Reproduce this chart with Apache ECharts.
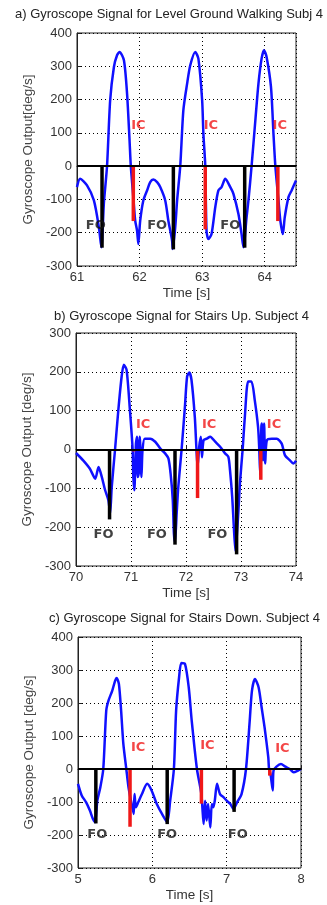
<!DOCTYPE html>
<html>
<head>
<meta charset="utf-8">
<script src="https://cdn.jsdelivr.net/npm/echarts@6/dist/echarts.min.js"></script>
<style>
  html, body { margin: 0; padding: 0; background: #fff; }
  #chart { width: 327px; height: 905px; }
</style>
</head>
<body>
<div id="chart"></div>
<script>
// a) level ground walking
var aTime = [61.00,61.05,61.16,61.27,61.35,61.39,61.43,61.48,61.53,61.59,61.64,61.68,61.75,61.80,61.84,61.86,61.90,61.93,61.96,61.98,62.01,62.06,62.12,62.17,62.22,62.28,62.33,62.41,62.46,62.52,62.53,62.57,62.60,62.65,62.70,62.76,62.81,62.89,62.94,63.00,63.02,63.05,63.07,63.10,63.15,63.21,63.26,63.31,63.37,63.45,63.50,63.58,63.63,63.66,63.71,63.74,63.79,63.85,63.90,63.95,63.99,64.03,64.10,64.14,64.17,64.22,64.25,64.29,64.32,64.38,64.43,64.50];
var aVal = [-63,-38,-58,-103,-184,-244,-110,0,198,298,333,343,318,218,77,0,-93,-164,-194,-234,-164,-103,-73,-48,-40,-48,-63,-103,-164,-224,-249,-184,-103,0,168,248,303,343,323,198,97,0,-194,-219,-204,-123,-73,-63,-38,-63,-83,-144,-204,-244,-154,-103,0,137,248,323,348,328,238,97,0,-103,-164,-204,-154,-93,-73,-43];
var aFoTime = [61.40, 62.54, 63.68];
var aFoVal = [-245, -250, -245];
var aIcTime = [61.90, 63.05, 64.21];
var aIcVal = [-165, -190, -165];
var aFoLabel = [[61.30, -180], [62.28, -180], [63.45, -180]];
var aIcLabel = [[61.98, 122], [63.14, 122], [64.24, 122]];

// b) stairs up
var bTime = [70.00,70.13,70.25,70.35,70.41,70.47,70.53,70.59,70.62,70.65,70.71,70.77,70.83,70.87,70.92,70.98,71.03,71.04,71.06,71.09,71.11,71.12,71.14,71.15,71.16,71.19,71.21,71.25,71.35,71.44,71.53,71.62,71.68,71.72,71.76,71.78,71.80,71.83,71.86,71.92,71.98,72.02,72.06,72.10,72.16,72.19,72.21,72.24,72.27,72.29,72.32,72.38,72.44,72.53,72.62,72.71,72.77,72.80,72.84,72.87,72.90,72.95,72.98,73.03,73.07,73.13,73.19,73.25,73.31,73.33,73.35,73.37,73.38,73.40,73.42,73.44,73.47,73.56,73.65,73.74,73.80,73.89,73.95,74.00];
var bVal = [-9,-28,-49,-75,-45,-71,-105,-131,-165,-96,0,102,188,218,205,102,0,-62,-105,15,33,-71,-62,-45,33,-71,0,28,28,20,3,-10,-23,-62,-131,-217,-238,-165,-96,0,110,188,198,179,84,0,-45,7,33,-20,24,28,33,20,7,-10,-19,-53,-122,-200,-262,-165,-88,0,84,175,175,127,58,7,-66,58,67,-28,67,-36,24,28,28,15,-15,-28,-36,-29];
var bFoTime = [70.61, 71.80, 72.92];
var bFoVal = [-180, -245, -270];
var bIcTime = [71.05, 72.21, 73.36];
var bIcVal = [-5, -125, -78];
var bFoLabel = [[70.50, -219], [71.47, -219], [72.57, -219]];
var bIcLabel = [[71.22, 65], [72.42, 65], [73.60, 65]];

// c) stairs down
var cTime = [5.00,5.05,5.11,5.16,5.20,5.23,5.26,5.30,5.34,5.38,5.41,5.46,5.50,5.52,5.55,5.58,5.61,5.65,5.68,5.73,5.75,5.76,5.78,5.81,5.86,5.93,5.99,6.06,6.13,6.20,6.24,6.29,6.32,6.36,6.39,6.44,6.49,6.53,6.60,6.66,6.69,6.71,6.73,6.75,6.78,6.80,6.82,6.84,6.87,6.91,6.96,7.00,7.05,7.09,7.14,7.20,7.26,7.31,7.34,7.38,7.43,7.47,7.51,7.56,7.57,7.59,7.62,7.63,7.67,7.73,7.79,7.85,7.90,7.96,8.00];
var cVal = [-45,-80,-101,-126,-151,-161,-96,-56,0,177,207,237,268,276,258,177,76,0,-56,-116,-136,-76,-116,-101,-76,-45,-65,-106,-136,-161,-96,0,177,278,321,318,247,146,0,-76,-167,-96,-156,-106,-177,-106,-116,-96,-45,-76,-86,-96,-106,-121,-101,-76,0,146,237,273,247,187,126,35,0,-15,-65,-5,7,15,7,0,-10,-5,0];
var cFoTime = [5.24, 6.20, 7.10];
var cFoVal = [-165, -167, -130];
var cIcTime = [5.70, 6.66, 7.58];
var cIcVal = [-175, -105, -20];
var cFoLabel = [[5.26, -199], [6.20, -199], [7.15, -199]];
var cIcLabel = [[5.81, 66], [6.74, 70], [7.75, 62]];

var titles = [
  'a) Gyroscope Signal for Level Ground Walking Subj 4',
  'b) Gyroscope Signal for Stairs Up. Subject 4',
  'c) Gyroscope Signal for Stairs Down. Subject 4'
];
var yNames = ['Gyroscope Output[deg/s]', 'Gyroscope Output [deg/s]', 'Gyroscope Output [deg/s]'];
var xRanges = [[61, 64.5], [70, 74], [5, 8]];
var yRanges = [[-300, 400], [-300, 300], [-300, 400]];

var FONT = 'Liberation Sans, Arial, sans-serif';

function zip(t, v) {
  return t.map(function(x, i) { return [x, v[i]]; });
}

// vertical stem from 0 down to the event value
function renderStem(params, api) {
  var p0 = api.coord([api.value(0), 0]);
  var p1 = api.coord([api.value(0), api.value(1)]);
  return {
    type: 'line',
    shape: { x1: p0[0], y1: p0[1], x2: p1[0], y2: p1[1] },
    style: { stroke: api.visual('color'), lineWidth: 3.5 }
  };
}

var panels = [
  { sig: zip(aTime, aVal), fo: zip(aFoTime, aFoVal), ic: zip(aIcTime, aIcVal), foLab: aFoLabel, icLab: aIcLabel },
  { sig: zip(bTime, bVal), fo: zip(bFoTime, bFoVal), ic: zip(bIcTime, bIcVal), foLab: bFoLabel, icLab: bIcLabel },
  { sig: zip(cTime, cVal), fo: zip(cFoTime, cFoVal), ic: zip(cIcTime, cIcVal), foLab: cFoLabel, icLab: cIcLabel }
];

var gridBoxes = [
  { left: 77, top: 33, width: 219, height: 233 },
  { left: 76, top: 333, width: 220, height: 233 },
  { left: 78, top: 637, width: 223, height: 231 }
];
var titleBoxes = [{ left: 15, top: 8 }, { left: 54, top: 310 }, { left: 49, top: 612 }];

var option = {
  backgroundColor: '#fff',
  animation: false,
  title: [],
  grid: [],
  xAxis: [],
  yAxis: [],
  series: []
};

panels.forEach(function(p, i) {
  option.title.push({
    text: titles[i],
    left: titleBoxes[i].left,
    top: titleBoxes[i].top,
    padding: 0,
    textStyle: { fontFamily: FONT, fontSize: 13, fontWeight: 'normal', color: '#222' }
  });

  option.grid.push({
    left: gridBoxes[i].left,
    top: gridBoxes[i].top,
    width: gridBoxes[i].width,
    height: gridBoxes[i].height,
    show: true,
    borderColor: '#222',
    borderWidth: 1,
    backgroundColor: '#fff'
  });

  option.xAxis.push({
    type: 'value',
    gridIndex: i,
    min: xRanges[i][0],
    max: xRanges[i][1],
    interval: 1,
    name: 'Time [s]',
    nameLocation: 'middle',
    nameGap: 20,
    nameTextStyle: { fontFamily: FONT, fontSize: 13.5, color: '#333' },
    axisLine: { show: true, lineStyle: { color: '#222', width: 1 } },
    axisTick: { show: true, inside: true, length: 4, lineStyle: { color: '#222' } },
    axisLabel: {
      fontFamily: FONT, fontSize: 13, color: '#333', margin: 5,
      showMaxLabel: i === 0 ? false : true
    },
    splitLine: { show: true, lineStyle: { type: [1, 3], color: '#000', width: 1 } }
  });

  option.yAxis.push({
    type: 'value',
    gridIndex: i,
    min: yRanges[i][0],
    max: yRanges[i][1],
    interval: 100,
    name: yNames[i],
    nameLocation: 'middle',
    nameGap: 38,
    nameTextStyle: { fontFamily: FONT, fontSize: 13.5, color: '#444' },
    axisLine: { show: true, lineStyle: { color: '#222', width: 1 } },
    axisTick: { show: true, inside: true, length: 4, lineStyle: { color: '#222' } },
    axisLabel: { fontFamily: FONT, fontSize: 13, color: '#333', margin: 5 },
    splitLine: { show: true, lineStyle: { type: [1, 3], color: '#000', width: 1 } }
  });

  option.series.push({
    type: 'line',
    xAxisIndex: i,
    yAxisIndex: i,
    data: p.sig,
    showSymbol: false,
    symbol: 'none',
    smooth: 0.25,
    z: 3,
    lineStyle: { color: '#1010ff', width: 2.5 },
    markLine: {
      silent: true,
      symbol: 'none',
      label: { show: false },
      lineStyle: { color: '#000', width: 2, type: 'solid' },
      data: [{ yAxis: 0 }]
    }
  });

  option.series.push({
    type: 'custom',
    xAxisIndex: i,
    yAxisIndex: i,
    data: p.fo,
    z: 4,
    itemStyle: { color: '#000' },
    renderItem: renderStem
  });

  option.series.push({
    type: 'custom',
    xAxisIndex: i,
    yAxisIndex: i,
    data: p.ic,
    z: 4,
    itemStyle: { color: '#f01818' },
    renderItem: renderStem
  });

  option.series.push({
    type: 'scatter',
    xAxisIndex: i,
    yAxisIndex: i,
    data: p.foLab,
    symbolSize: 0,
    z: 5,
    label: {
      show: true, position: 'inside', formatter: 'FO',
      fontFamily: 'DejaVu Sans, sans-serif', fontSize: 13, fontWeight: 'bold', color: '#111'
    }
  });

  option.series.push({
    type: 'scatter',
    xAxisIndex: i,
    yAxisIndex: i,
    data: p.icLab,
    symbolSize: 0,
    z: 5,
    label: {
      show: true, position: 'inside', formatter: 'IC',
      fontFamily: 'DejaVu Sans, sans-serif', fontSize: 13, fontWeight: 'bold', color: '#f01818'
    }
  });
});

var myChart = echarts.init(document.getElementById('chart'), null, { renderer: 'canvas' });
myChart.setOption(option);
</script>
</body>
</html>
